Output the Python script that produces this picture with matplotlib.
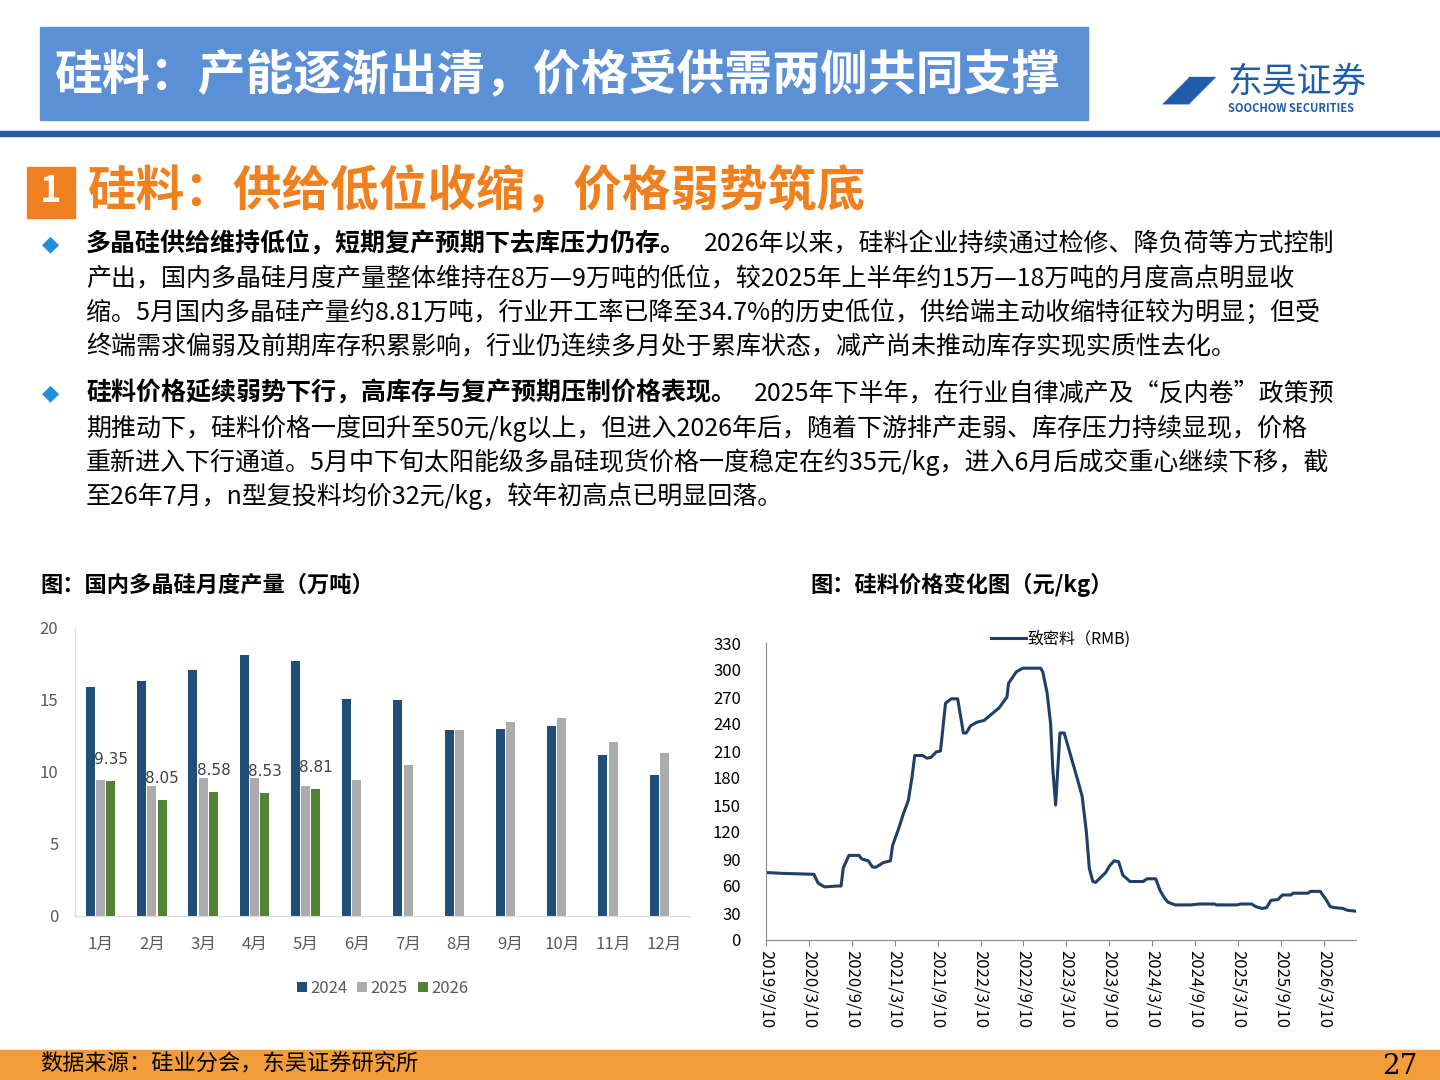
import numpy as np
import matplotlib.pyplot as plt
from matplotlib.patches import Rectangle

plt.rcParams['font.family'] = ['Noto Sans CJK SC', 'DejaVu Sans']

# bar chart data (万吨)
months = ['1月', '2月', '3月', '4月', '5月', '6月', '7月', '8月', '9月', '10月', '11月', '12月']
prod_2024 = [15.9, 16.3, 17.1, 18.1, 17.7, 15.1, 15.0, 12.9, 13.0, 13.2, 11.2, 9.8]
prod_2025 = [9.45, 9.0, 9.6, 9.55, 9.05, 9.45, 10.5, 12.9, 13.45, 13.75, 12.05, 11.35]
prod_2026 = [9.35, 8.05, 8.58, 8.53, 8.81]

# price data: months since 2019/9/10, 元/kg
price_m = [0, 2.4, 6.7, 7.3, 8.2, 10.0, 10.5, 10.8, 11.6, 13.0, 13.4, 14.3, 14.9, 15.4, 16.4,
           17.4, 17.7, 18.6, 19.2, 19.9, 20.4, 20.8, 21.9, 22.5, 23.1, 23.8, 24.4, 25.1, 25.9,
           26.8, 27.6, 28.0, 28.6, 29.5, 30.5, 31.4, 32.6, 33.7, 33.9, 35.0, 35.9, 38.4, 38.7,
           39.3, 39.8, 40.1, 40.5, 41.1, 41.7, 42.6, 43.5, 44.2, 44.8, 45.2, 45.7, 46.1, 47.5,
           48.1, 48.7, 49.3, 49.9, 50.9, 52.7, 53.3, 54.5, 55.1, 55.7, 56.2, 57.2, 59.4, 60.6,
           62.7, 63.0, 65.8, 66.4, 67.9, 68.5, 69.4, 70.0, 70.6, 71.6, 72.2, 73.4, 73.7, 75.8,
           76.1, 77.5, 78.3, 78.9, 79.5, 80.7, 81.3, 82.5]
price_v = [75, 74, 73, 63, 59, 60, 60, 80, 94, 94, 90, 88, 81, 81, 86,
           88, 105, 125, 140, 155, 180, 205, 205, 202, 203, 209, 210, 263, 268,
           268, 230, 230, 238, 242, 244, 250, 258, 270, 285, 298, 302, 302, 298,
           275, 240, 190, 150, 230, 230, 205, 180, 160, 120, 80, 65, 64, 75,
           83, 88, 87, 72, 65, 65, 68, 68, 55, 47, 42, 39, 39, 40,
           40, 39, 39, 40, 40, 37, 35, 36, 44, 45, 50, 50, 52, 52,
           54, 54, 45, 37, 36, 35, 33, 32]
date_ticks = ['2019/9/10', '2020/3/10', '2020/9/10', '2021/3/10', '2021/9/10', '2022/3/10',
              '2022/9/10', '2023/3/10', '2023/9/10', '2024/3/10', '2024/9/10', '2025/3/10',
              '2025/9/10', '2026/3/10']

fig = plt.figure(figsize=(14.4, 10.8), dpi=100)
W, H = 1440, 1080

def px(x, y):
    return x / W, 1 - y / H

# header
fig.patches.append(Rectangle(px(40, 120), 1048 / W, 93 / H, transform=fig.transFigure,
                             color='#5B8FD6', zorder=0))
fig.text(*px(55, 75), '硅料：产能逐渐出清，价格受供需两侧共同支撑', color='white',
         fontsize=34.5, fontweight='bold', va='center')
fig.patches.append(Rectangle(px(0, 136), 1, 5 / H, transform=fig.transFigure,
                             color='#1F5CAA', zorder=0))
fig.text(*px(1162, 90), '◢◤', color='#1F5CAA', fontsize=26, va='center', family='DejaVu Sans')
fig.text(*px(1228, 82), '东吴证券', color='#1F5CAA', fontsize=25, va='center')
fig.text(*px(1228, 108), 'SOOCHOW SECURITIES', color='#1F5CAA', fontsize=8,
         va='center', fontweight='bold')

# section title
fig.patches.append(Rectangle(px(27, 218), 48 / W, 51 / H, transform=fig.transFigure,
                             color='#F07F1D'))
fig.text(*px(51, 192), '1', color='white', fontsize=26, fontweight='bold',
         ha='center', va='center')
fig.text(*px(88, 192), '硅料：供给低位收缩，价格弱势筑底', color='#F07F1D', fontsize=35,
         fontweight='bold', va='center')

# body text
fs = 18
renderer = fig.canvas.get_renderer()

def lead(y, bold, rest):
    fig.text(*px(42, y), '◆', color='#1E8FD8', fontsize=16, va='center', family='DejaVu Sans')
    t = fig.text(*px(86, y), bold, fontsize=fs, fontweight='bold', va='center')
    x1 = t.get_window_extent(renderer).x1
    fig.text(x1 / W + 18 / W, 1 - y / H, rest, fontsize=fs, va='center')

lead(244, '多晶硅供给维持低位，短期复产预期下去库压力仍存。',
     '2026年以来，硅料企业持续通过检修、降负荷等方式控制')
fig.text(*px(86, 279), '产出，国内多晶硅月度产量整体维持在8万—9万吨的低位，较2025年上半年约15万—18万吨的月度高点明显收',
         fontsize=fs, va='center')
fig.text(*px(86, 313), '缩。5月国内多晶硅产量约8.81万吨，行业开工率已降至34.7%的历史低位，供给端主动收缩特征较为明显；但受',
         fontsize=fs, va='center')
fig.text(*px(86, 347), '终端需求偏弱及前期库存积累影响，行业仍连续多月处于累库状态，减产尚未推动库存实现实质性去化。',
         fontsize=fs, va='center')

lead(393, '硅料价格延续弱势下行，高库存与复产预期压制价格表现。',
     '2025年下半年，在行业自律减产及“反内卷”政策预')
fig.text(*px(86, 428), '期推动下，硅料价格一度回升至50元/kg以上，但进入2026年后，随着下游排产走弱、库存压力持续显现，价格',
         fontsize=fs, va='center')
fig.text(*px(86, 462), '重新进入下行通道。5月中下旬太阳能级多晶硅现货价格一度稳定在约35元/kg，进入6月后成交重心继续下移，截',
         fontsize=fs, va='center')
fig.text(*px(86, 496), '至26年7月，n型复投料均价32元/kg，较年初高点已明显回落。', fontsize=fs, va='center')

# chart titles
fig.text(*px(40, 585), '图：国内多晶硅月度产量（万吨）', fontsize=16, fontweight='bold', va='center')
fig.text(*px(810, 585), '图：硅料价格变化图（元/kg）', fontsize=16, fontweight='bold', va='center')

# bar chart
ax1 = fig.add_axes([75 / W, 1 - 916 / H, 615 / W, 288 / H])
idx = np.arange(len(months))
bw = 0.2
ax1.bar(idx - bw, prod_2024, bw * 0.9, color='#1F4E79', label='2024')
ax1.bar(idx, prod_2025, bw * 0.9, color='#ABABAB', label='2025')
b26 = ax1.bar(idx[:len(prod_2026)] + bw, prod_2026, bw * 0.9, color='#548235', label='2026')
for r, v in zip(b26, prod_2026):
    ax1.text(r.get_x() + r.get_width() / 2, v + 1.0, '%.2f' % v, ha='center', va='bottom',
             fontsize=11, color='#404040', family='DejaVu Sans')
ax1.set_ylim(0, 20)
ax1.set_xlim(-0.5, 11.5)
ax1.set_yticks([0, 5, 10, 15, 20])
ax1.set_xticks(idx)
ax1.set_xticklabels(months)
for s in ['top', 'right']:
    ax1.spines[s].set_visible(False)
ax1.spines['left'].set_color('#D9D9D9')
ax1.spines['bottom'].set_color('#D9D9D9')
ax1.tick_params(colors='#595959', labelsize=12, length=0)
ax1.tick_params(axis='y', pad=12)
ax1.tick_params(axis='x', pad=14)
ax1.legend(loc='upper center', bbox_to_anchor=(0.5, -0.17), ncol=3, frameon=False,
           fontsize=12, handlelength=0.6, handleheight=0.6, columnspacing=0.6,
           handletextpad=0.2, labelcolor='#595959')

# line chart
ax2 = fig.add_axes([766 / W, 1 - 940 / H, 590 / W, 297 / H])
ax2.plot(price_m, price_v, color='#1F3F66', lw=2.2, label='致密料（RMB)')
ax2.set_ylim(0, 330)
ax2.set_yticks(range(0, 331, 30))
ax2.set_xlim(0, 82.5)
ax2.set_xticks(np.arange(0, 6 * len(date_ticks), 6))
ax2.set_xticklabels(date_ticks, rotation=-90, fontsize=12)
for s in ['top', 'right']:
    ax2.spines[s].set_visible(False)
ax2.spines['left'].set_color('#888888')
ax2.spines['bottom'].set_color('#888888')
ax2.tick_params(axis='y', labelsize=12, length=0, pad=18)
ax2.tick_params(axis='x', length=4, direction='out', color='#888888')
ax2.legend(loc='upper center', bbox_to_anchor=(0.5, 1.09), frameon=False, fontsize=11.5,
           handlelength=2.2, handletextpad=0.1)

# footer
fig.patches.append(Rectangle((0, 0), 1, 30 / H, transform=fig.transFigure, color='#F39C3A'))
fig.text(*px(40, 1064), '数据来源：硅业分会，东吴证券研究所', fontsize=16, va='center')
fig.text(*px(1418, 1066), '27', fontsize=20, va='center', ha='right', family='DejaVu Serif')

fig.savefig('out.png', dpi=100)
